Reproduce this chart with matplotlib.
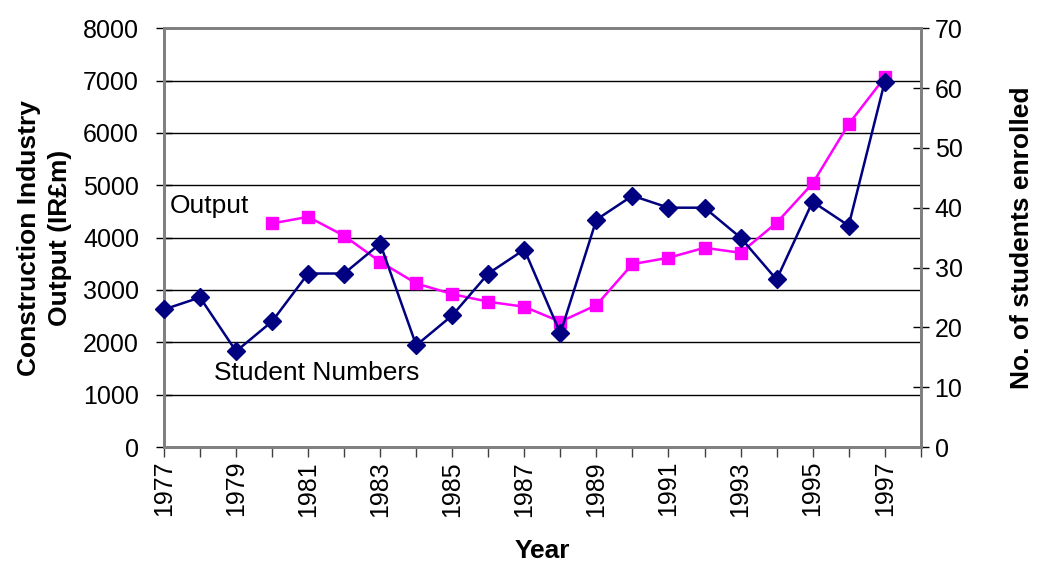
import matplotlib
matplotlib.use("Agg")
import matplotlib.pyplot as plt

plt.rcParams['font.family'] = ['Liberation Sans', 'DejaVu Sans']

years = list(range(1977, 1998))
output_years = list(range(1980, 1998))
output_irl_m = [4271, 4397, 4034, 3538, 3125, 2921, 2775, 2679, 2393,
                2711, 3494, 3615, 3806, 3710, 4283, 5035, 6167, 7059]
students = [23, 25, 16, 21, 29, 29, 34, 17, 22, 29, 33, 19,
            38, 42, 40, 40, 35, 28, 41, 37, 61]
left_ticks = [0, 1000, 2000, 3000, 4000, 5000, 6000, 7000, 8000]
right_ticks = [0, 10, 20, 30, 40, 50, 60, 70]

TICK_FS = 18
LABEL_FS = 19

fig = plt.figure(figsize=(10.38, 5.64), dpi=100)
ax = fig.add_axes([0.158, 0.2074, 0.729, 0.7426])

ax.set_xlim(1977, 1998)
ax.set_ylim(0, 8000)
ax.set_yticks(left_ticks)
ax.set_yticklabels([str(t) for t in left_ticks], fontsize=TICK_FS)
ax.set_xticks(list(range(1977, 1999)))
ax.set_xticklabels([str(y) if (y - 1977) % 2 == 0 and y < 1998 else ''
                    for y in range(1977, 1999)], rotation=90, fontsize=TICK_FS)
for t in left_ticks[1:-1]:
    ax.axhline(t, color='black', lw=1.0, zorder=1)

ax.plot(output_years, output_irl_m, color='#FF00FF', lw=1.8, marker='s',
        markersize=9, markeredgecolor='#FF00FF', zorder=3, clip_on=False)

ax.set_ylabel('Construction Industry\nOutput (IR£m)', fontsize=LABEL_FS,
              fontweight='bold', labelpad=8, linespacing=1.35)
ax.set_xlabel('Year', fontsize=LABEL_FS, fontweight='bold', labelpad=16)

for s in ax.spines.values():
    s.set_color('#808080')
    s.set_linewidth(2)
ax.tick_params(axis='y', direction='inout', length=12, width=1, color='black', pad=12)
ax.tick_params(axis='x', direction='out', length=7, width=1, color='#404040', pad=3)

ax2 = ax.twinx()
ax2.set_ylim(0, 70)
ax2.set_yticks(right_ticks)
ax2.set_yticklabels([str(t) for t in right_ticks], fontsize=TICK_FS)
ax2.plot(years, students, color='#000080', lw=1.8, marker='D',
         markersize=9, markeredgecolor='#000080', zorder=4, clip_on=False)
ax2.set_ylabel('No. of students enrolled', fontsize=LABEL_FS, fontweight='bold',
               labelpad=34)
for s in ax2.spines.values():
    s.set_color('#808080')
    s.set_linewidth(2)
ax2.tick_params(axis='y', direction='inout', length=12, width=1, color='black', pad=4)

ax.text(1977.15, 4600, 'Output', fontsize=LABEL_FS, ha='left', va='center')
ax.text(1978.4, 1420, 'Student Numbers', fontsize=LABEL_FS, ha='left', va='center')

fig.savefig('out.png', dpi=100)
